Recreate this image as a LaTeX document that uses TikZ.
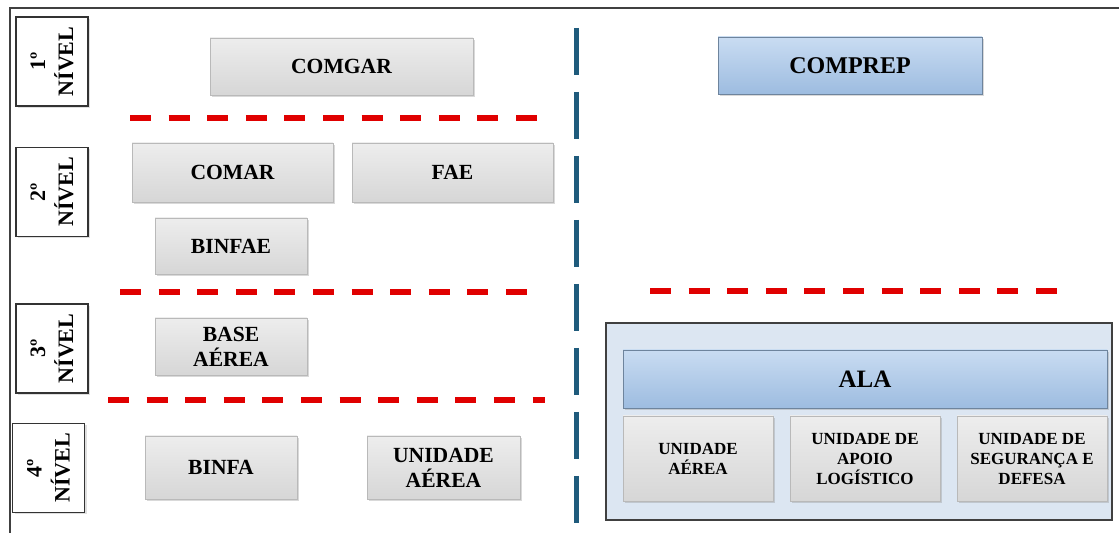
\documentclass[tikz,border=0pt]{standalone}
\usepackage{fontspec}
\setmainfont{Liberation Serif}
\usepackage{xcolor}
\usetikzlibrary{shadows}
\definecolor{sepred}{HTML}{E00000}
\definecolor{sepblue}{HTML}{1F5B7C}
\definecolor{unitblue}{HTML}{9DBCE0}
\definecolor{unitbluetop}{HTML}{C9DCF2}
\definecolor{alabg}{HTML}{DCE6F2}
\tikzset{
	bevel/.style={draw=gray!55, line width=0.4pt, top color=gray!14, bottom color=gray!32,
		drop shadow={opacity=0.3, shadow xshift=1pt, shadow yshift=-1pt},
		align=center, font=\fontsize{10.8}{12.5}\selectfont\bfseries, inner sep=1pt},
	bevelblue/.style={bevel, draw=unitblue!70!black, top color=unitbluetop, bottom color=unitblue},
	levelbox/.style={draw=black!80, line width=0.9pt, fill=white, rotate=90, align=center,
		font=\fontsize{11}{14}\selectfont\bfseries, minimum width=44.5pt, minimum height=36pt,
		drop shadow={opacity=0.25, shadow xshift=1pt, shadow yshift=-1pt}},
	redsep/.style={draw=sepred, line width=3pt, dash pattern=on 10.5pt off 8.8pt},
	bluesep/.style={draw=sepblue, line width=2.5pt, dash pattern=on 23.5pt off 8.5pt}
}
\begin{document}
\begin{tikzpicture}[x=0.5pt, y=-0.5pt]
		\useasboundingbox (0,0) rectangle (1119,533);
		\coordinate (TL) at (10, 8);
		\coordinate (TR) at (1119, 8);
		\coordinate (BL) at (10, 533);
		\draw[black!75, line width=1pt] (BL) -- (TL) -- (TR);

		% levels
		\node[levelbox] (N1) at (52, 61.5) {1º\\NÍVEL};
		\node[levelbox] (N2) at (52, 192) {2º\\NÍVEL};
		\node[levelbox] (N3) at (52, 348.5) {3º\\NÍVEL};
		\node[levelbox] (N4) at (48.5, 468) {4º\\NÍVEL};

		\node[bevel, minimum width=131.5pt, minimum height=28.5pt] (COMGAR) at (341.5, 66.5) {COMGAR};
		\node[bevel, minimum width=100.5pt, minimum height=29.5pt] (COMAR) at (232.5, 172.5) {COMAR};
		\node[bevel, minimum width=100.5pt, minimum height=29.5pt] (FAE) at (452.5, 172.5) {FAE};
		\node[bevel, minimum width=76pt, minimum height=28pt] (BINFAE) at (231, 246) {BINFAE};
		\node[bevel, minimum width=76pt, minimum height=28.5pt] (BASE) at (231, 346.5) {BASE\\AÉREA};
		\node[bevel, minimum width=76pt, minimum height=31.5pt] (BINFA) at (221, 467.5) {BINFA};
		\node[bevel, minimum width=76.5pt, minimum height=31.5pt] (UAER) at (443.5, 467.5) {UNIDADE\\AÉREA};

		\node[bevelblue, minimum width=132pt, minimum height=28.5pt, font=\fontsize{12}{14}\selectfont\bfseries] (COMPREP) at (850, 65.5) {COMPREP};
		\node[draw=black!75, line width=0.8pt, fill=alabg, minimum width=253pt, minimum height=98.5pt] (ALABOX) at (859, 421.5) {};
		\node[bevelblue, minimum width=242pt, minimum height=29pt, font=\fontsize{12.5}{14}\selectfont\bfseries] (ALA) at (865, 379) {ALA};
		\foreach \name/\x/\txt in {UA/698/UNIDADE\\AÉREA, UAL/865/UNIDADE DE\\APOIO\\LOGÍSTICO, USD/1032/UNIDADE DE\\SEGURANÇA E\\DEFESA} {
			\node[bevel, minimum width=75pt, minimum height=42.5pt, font=\fontsize{8.5}{10}\selectfont\bfseries] (\name) at (\x, 458.5) {\txt};
		}

		% separators
		\foreach \s/\t/\y in {130/540/118, 120/528/292, 108/545/400, 650/1057/291} {
			\draw[redsep] (\s, \y) -- (\t, \y);
		}
		\draw[bluesep] (576, 28) -- (576, 526);
	\end{tikzpicture}
\end{document}
